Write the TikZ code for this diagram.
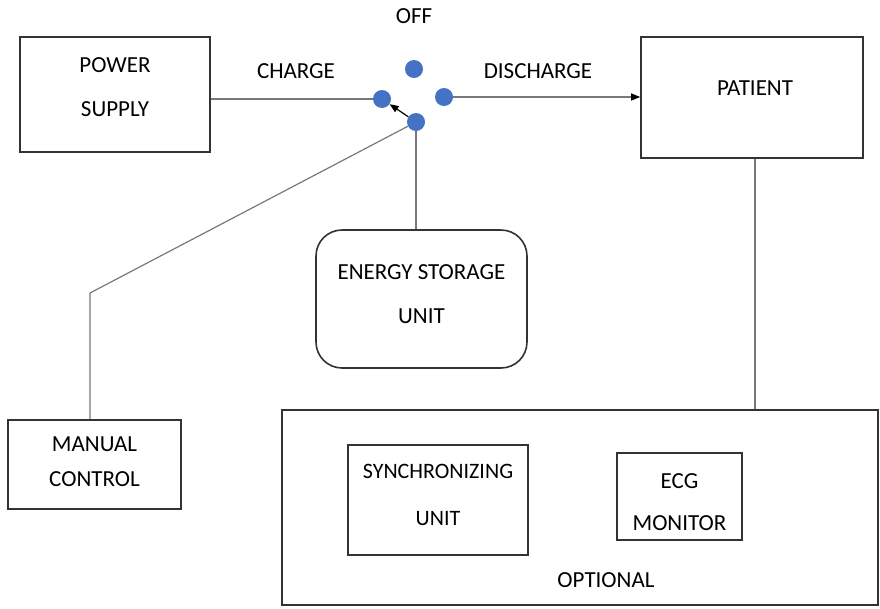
\documentclass[tikz,border=0pt]{standalone}
\usepackage{fontspec}
\setmainfont{Carlito}
\usetikzlibrary{arrows.meta}
\definecolor{dotblue}{RGB}{68,114,196}
\definecolor{linegray}{RGB}{120,120,120}
\begin{document}
\begin{tikzpicture}[x=1pt, y=-1pt,
  box/.style={draw=black!80, line width=1.6pt, align=center, inner sep=0pt, font=\fontsize{23}{44}\selectfont},
  txt/.style={font=\fontsize{23}{27}\selectfont, inner sep=0pt},
  swdot/.style={circle, fill=dotblue, minimum size=18pt, inner sep=0pt},
  wire/.style={draw=linegray, line width=1.2pt},
  tip/.style={-{Triangle[length=9pt, width=7pt, color=black]}}]
\useasboundingbox (0,0) rectangle (880,608);
% blocks
\node[box, minimum width=190, minimum height=115, text depth=14pt] (power) at (115,94.5) {POWER\\SUPPLY};
\node[box, minimum width=222, minimum height=121] (patient) at (752,97.5) {};
\node[txt] (patlabel) at (755,88) {PATIENT};
\node[box, rounded corners=26pt, minimum width=211, minimum height=138, text depth=10pt] (energy) at (421.5,299) {ENERGY STORAGE\\UNIT};
\node[box, minimum width=173, minimum height=89, text depth=6pt, font=\fontsize{23}{35}\selectfont] (manual) at (94.5,464.5) {MANUAL\\CONTROL};
\node[box, minimum width=596, minimum height=195] (optional) at (580,507.5) {};
\node[txt] (optlabel) at (606,580) {OPTIONAL};
\node[box, minimum width=180, minimum height=110, text depth=11pt, font=\fontsize{22}{47}\selectfont] (sync) at (438,500) {SYNCHRONIZING\\UNIT};
\node[box, minimum width=125, minimum height=87, text height=68pt, font=\fontsize{23}{42}\selectfont] (ecg) at (679.5,496.5) {ECG\\MONITOR};
% switch
\node[swdot] (soff) at (414,69) {};
\node[swdot] (sl) at (382,99) {};
\node[swdot] (sr) at (444,97) {};
\node[swdot] (sb) at (416,122) {};
\node[txt] (offlabel) at (414,16) {OFF};
\node[txt] (chargelabel) at (296,71) {CHARGE};
\node[txt] (dischargelabel) at (538,71) {DISCHARGE};
\coordinate (bend) at (90,293);
% connections
\draw[wire] (sl -| power.east) -- (sl);
\draw[wire, tip] (sr) -- (sr -| patient.west);
\draw[wire, tip, draw=black] (sb) -- (sl);
\draw[wire] (sb) -- (sb |- energy.north);
\draw[wire] (sb) -- (bend) -- (bend |- manual.north);
\draw[wire] (patient.south -| patlabel) -- (patlabel |- optional.north);
\end{tikzpicture}
\end{document}
